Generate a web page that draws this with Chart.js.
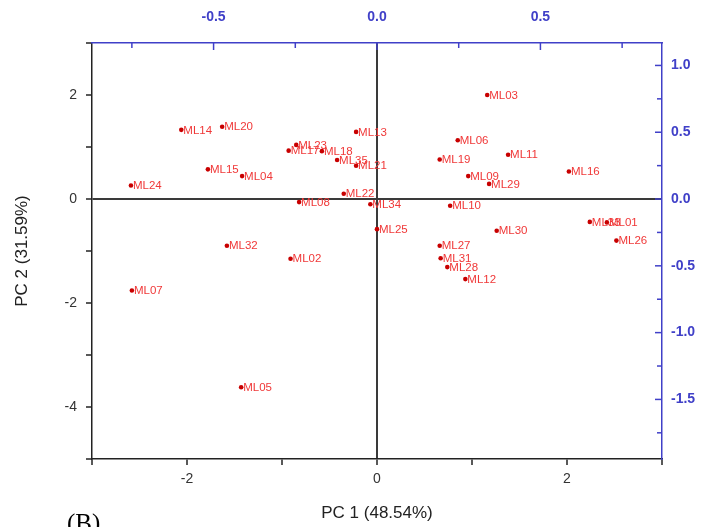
<!DOCTYPE html>
<html>
<head>
<meta charset="utf-8">
<script src="https://cdn.jsdelivr.net/npm/chart.js@4.4.1/dist/chart.umd.min.js"></script>
<style>
  html, body { margin: 0; padding: 0; background: #fff; }
  #wrap { width: 708px; height: 527px; }
</style>
</head>
<body>
<div id="wrap"><canvas id="pca"></canvas></div>
<script>
// sample names and scores
const names = ['ML01','ML02','ML03','ML04','ML05','ML06','ML07','ML08','ML09','ML10',
               'ML11','ML12','ML13','ML14','ML15','ML16','ML17','ML18','ML19','ML20',
               'ML21','ML22','ML23','ML24','ML25','ML26','ML27','ML28','ML29','ML30',
               'ML31','ML32','ML33','ML34','ML35'];
const pc1 = [ 2.42, -0.91,  1.16, -1.42, -1.43,  0.85, -2.58, -0.82,  0.96,  0.77,
              1.38,  0.93, -0.22, -2.06, -1.78,  2.02, -0.93, -0.58,  0.66, -1.63,
             -0.22, -0.35, -0.85, -2.59,  0.00,  2.52,  0.66,  0.74,  1.18,  1.26,
              0.67, -1.58,  2.24, -0.07, -0.42];
const pc2 = [-0.45, -1.15,  2.00,  0.44, -3.62,  1.13, -1.76, -0.06,  0.44, -0.13,
              0.85, -1.54,  1.29,  1.33,  0.57,  0.53,  0.93,  0.92,  0.76,  1.39,
              0.64,  0.10,  1.04,  0.26, -0.58, -0.80, -0.90, -1.31,  0.29, -0.61,
             -1.14, -0.90, -0.44, -0.10,  0.75];

// axis ticks
const bottomTicks = [-3, -2, -1, 0, 1, 2, 3];
const leftTicks = [-5, -4, -3, -2, -1, 0, 1, 2, 3];
const topTicks = [-0.5, 0, 0.5];
const rightTicks = [1.0, 0.5, 0, -0.5, -1.0, -1.5];

const blue = '#4040c8';
const sans = '"Liberation Sans", Arial, sans-serif';

function setTicks(list) {
    return scale => { scale.ticks = list.map(v => ({ value: v })); };
}

const extras = {
    id: 'extras',
    afterDatasetsDraw(chart) {
        const ctx = chart.ctx;
        const meta = chart.getDatasetMeta(0);
        ctx.save();
        ctx.font = '11.5px ' + sans;
        ctx.fillStyle = '#f03838';
        ctx.textBaseline = 'middle';
        meta.data.forEach((pt, i) => ctx.fillText(names[i], pt.x + 2, pt.y + 0.5));
        ctx.restore();
    },
    afterDraw(chart) {
        const ctx = chart.ctx;
        const area = chart.chartArea;
        const x2 = chart.scales.x2;
        const y2 = chart.scales.y2;
        ctx.save();
        ctx.strokeStyle = blue;
        ctx.lineWidth = 1.5;
        // inward ticks on the blue axes, every 0.25
        for (let v = -0.75; v <= 0.76; v += 0.25) {
            const px = x2.getPixelForValue(v);
            const len = Math.abs(v * 2 - Math.round(v * 2)) < 1e-6 ? 7 : 5;
            ctx.beginPath();
            ctx.moveTo(px, area.top);
            ctx.lineTo(px, area.top + len);
            ctx.stroke();
        }
        for (let v = -1.75; v <= 1.01; v += 0.25) {
            const py = y2.getPixelForValue(v);
            const len = Math.abs(v * 2 - Math.round(v * 2)) < 1e-6 ? 7 : 5;
            ctx.beginPath();
            ctx.moveTo(area.right, py);
            ctx.lineTo(area.right - len, py);
            ctx.stroke();
        }
        ctx.fillStyle = '#000';
        ctx.font = '25px "Liberation Serif", "Times New Roman", serif';
        ctx.textBaseline = 'alphabetic';
        ctx.fillText('(B)', 67, 531);
        ctx.restore();
    }
};

const ctx = document.getElementById('pca').getContext('2d');
new Chart(ctx, {
    type: 'scatter',
    data: {
        datasets: [{
            data: pc1.map((v, i) => ({ x: v, y: pc2[i] })),
            backgroundColor: '#c80000',
            borderWidth: 0,
            pointRadius: 2.3,
            xAxisID: 'x',
            yAxisID: 'y'
        }]
    },
    options: {
        responsive: true,
        maintainAspectRatio: false,
        animation: false,
        layout: { padding: 0 },
        plugins: {
            legend: { display: false },
            tooltip: { enabled: false }
        },
        scales: {
            x: {
                type: 'linear', position: 'bottom', min: -3, max: 3,
                afterBuildTicks: setTicks(bottomTicks),
                afterFit: s => { s.height = 68; },
                border: { color: '#222', width: 1.5 },
                grid: {
                    color: c => (c.tick && c.tick.value === 0) ? '#3a3a3a' : 'rgba(0,0,0,0)',
                    lineWidth: 2, tickColor: '#222', tickWidth: 1.5, tickLength: 6
                },
                ticks: {
                    color: '#333', font: { family: sans, size: 14 }, padding: 6,
                    callback: v => (v % 2 === 0 ? String(v) : '')
                },
                title: {
                    display: true, text: 'PC 1 (48.54%)', color: '#222',
                    font: { family: sans, size: 17 }, padding: { top: 0, bottom: 3 }
                }
            },
            y: {
                type: 'linear', position: 'left', min: -5, max: 3,
                afterBuildTicks: setTicks(leftTicks),
                afterFit: s => { s.width = 92; },
                border: { color: '#222', width: 1.5 },
                grid: {
                    color: c => (c.tick && c.tick.value === 0) ? '#3a3a3a' : 'rgba(0,0,0,0)',
                    lineWidth: 2, tickColor: '#222', tickWidth: 1.5, tickLength: 6
                },
                ticks: {
                    color: '#333', font: { family: sans, size: 14 }, padding: 9,
                    callback: v => (v % 2 === 0 && v > -5 ? String(v) : '')
                },
                title: {
                    display: true, text: 'PC 2 (31.59%)', color: '#222',
                    font: { family: sans, size: 17 }, padding: { top: 12, bottom: 0 }
                }
            },
            x2: {
                type: 'linear', position: 'top', min: -0.872, max: 0.872,
                afterBuildTicks: setTicks(topTicks),
                afterFit: s => { s.height = 43; },
                border: { color: blue, width: 1.5 },
                grid: { display: false, drawTicks: false },
                ticks: {
                    color: blue, font: { family: sans, size: 14, weight: 'bold' }, padding: 17,
                    callback: v => v.toFixed(1)
                }
            },
            y2: {
                type: 'linear', position: 'right', min: -1.946, max: 1.168,
                afterBuildTicks: setTicks(rightTicks),
                afterFit: s => { s.width = 46; },
                border: { color: blue, width: 1.5 },
                grid: { display: false, drawTicks: false },
                ticks: {
                    color: blue, font: { family: sans, size: 14, weight: 'bold' }, padding: 9,
                    callback: v => v.toFixed(1)
                }
            }
        }
    },
    plugins: [extras]
});
</script>
</body>
</html>
